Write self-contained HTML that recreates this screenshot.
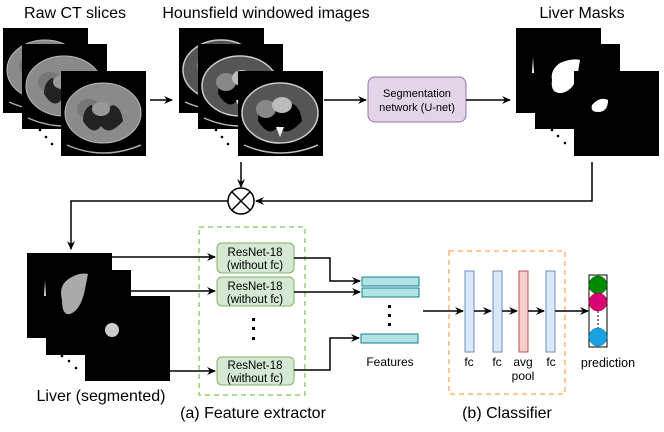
<!DOCTYPE html>
<html><head><meta charset="utf-8"><style>
html,body{margin:0;padding:0;background:#fff}
svg{display:block}
text{font-family:"Liberation Sans",sans-serif;fill:#000}
</style></head><body>
<svg width="664" height="432" viewBox="0 0 664 432" xmlns="http://www.w3.org/2000/svg">
<defs>
<marker id="a" markerWidth="10" markerHeight="10" refX="8" refY="5" orient="auto" markerUnits="userSpaceOnUse"><path d="M0,1 L9,5 L0,9 L3,5 Z" fill="#000"/></marker>
<g id="ct">
<rect width="85" height="85" fill="#000"/>
<ellipse cx="42" cy="42" rx="38" ry="30" fill="#8a8a8a" stroke="#bbb" stroke-width="1"/>
<ellipse cx="28" cy="38" rx="12" ry="10" fill="#777"/>
<path d="M22 50 Q32 66 40 55 Q48 66 62 50 Q60 36 52 34 Q42 40 30 34 Q22 38 22 50Z" fill="#222"/>
<ellipse cx="40" cy="38" rx="9" ry="7" fill="#999"/>
<path d="M6 74 Q42 90 80 74" stroke="#aaa" fill="none" stroke-width="1.5"/>
</g>
<g id="hu">
<rect width="85" height="85" fill="#000"/>
<ellipse cx="42" cy="42" rx="38" ry="30" fill="#555" stroke="#ccc" stroke-width="1.5"/>
<path d="M20 50 Q32 68 40 55 Q48 68 64 50 Q62 34 52 32 Q42 38 30 32 Q20 36 20 50Z" fill="#000"/>
<ellipse cx="28" cy="38" rx="10" ry="9" fill="#888"/>
<ellipse cx="44" cy="34" rx="10" ry="8" fill="#bbb"/>
<path d="M38 56 L46 56 L42 66Z" fill="#eee"/>
<path d="M6 74 Q42 90 80 74" stroke="#bbb" fill="none" stroke-width="1.5"/>
</g>
</defs>

<text x="75" y="18" font-size="16" text-anchor="middle">Raw CT slices</text>
<text x="266" y="18" font-size="16" text-anchor="middle">Hounsfield windowed images</text>
<text x="582" y="18" font-size="16" text-anchor="middle">Liver Masks</text>

<use href="#ct" x="3" y="28"/>
<use href="#ct" x="22" y="44"/>
<use href="#ct" x="61" y="71"/>
<circle cx="40" cy="130" r="1.3"/><circle cx="46" cy="137" r="1.3"/><circle cx="52" cy="144" r="1.3"/>

<use href="#hu" x="179" y="28"/>
<use href="#hu" x="198" y="44"/>
<use href="#hu" x="238" y="71"/>
<circle cx="216" cy="130" r="1.3"/><circle cx="222" cy="137" r="1.3"/><circle cx="228" cy="144" r="1.3"/>

<line x1="150" y1="100" x2="172" y2="100" stroke="#000" stroke-width="1.5" marker-end="url(#a)"/>
<line x1="324" y1="100" x2="366" y2="100" stroke="#000" stroke-width="1.5" marker-end="url(#a)"/>
<rect x="368" y="77" width="98" height="45" rx="7" fill="#e1d5e7" stroke="#9673a6"/>
<text x="417" y="97" font-size="11" text-anchor="middle">Segmentation</text>
<text x="417" y="111" font-size="11" text-anchor="middle">network (U-net)</text>
<line x1="466" y1="100" x2="510" y2="100" stroke="#000" stroke-width="1.5" marker-end="url(#a)"/>

<rect x="516" y="28" width="85" height="85" fill="#000"/>
<path d="M533 57 L534 73 L532 73Z" fill="#fff"/>
<rect x="535" y="44" width="85" height="85" fill="#000"/>
<path d="M552 80 Q550 70 560 63 Q572 58 580 60 L578 72 Q575 90 562 93 Q550 94 552 80Z" fill="#fff"/>
<rect x="574" y="71" width="85" height="85" fill="#000"/>
<path d="M592 105 Q600 96 608 100 Q608 112 598 112 Q590 112 592 105Z" fill="#fff"/>
<circle cx="552" cy="130" r="1.3"/><circle cx="558" cy="136" r="1.3"/><circle cx="565" cy="143" r="1.3"/>

<line x1="241" y1="162" x2="241" y2="187" stroke="#000" stroke-width="1.5" marker-end="url(#a)"/>
<polyline points="592,162 592,201 256,201" fill="none" stroke="#000" stroke-width="1.5" marker-end="url(#a)"/>
<circle cx="241" cy="201" r="13" fill="#fff" stroke="#000" stroke-width="1.5"/>
<line x1="232" y1="192" x2="250" y2="210" stroke="#000" stroke-width="1.5"/>
<line x1="250" y1="192" x2="232" y2="210" stroke="#000" stroke-width="1.5"/>
<polyline points="228,201 71,201 71,249" fill="none" stroke="#000" stroke-width="1.5" marker-end="url(#a)"/>

<rect x="27" y="253" width="85" height="85" fill="#000"/>
<rect x="46" y="270" width="85" height="85" fill="#000"/>
<path d="M45 280 L46 296 L44 296Z" fill="#ddd"/>
<path d="M62 300 Q58 285 70 278 Q80 272 88 274 L86 284 Q82 310 70 314 Q62 316 62 300Z" fill="#aaa"/>
<rect x="85" y="296" width="85" height="85" fill="#000"/>
<ellipse cx="112" cy="330" rx="7" ry="7" fill="#ccc"/>
<circle cx="62" cy="356" r="1.3"/><circle cx="69" cy="361" r="1.3"/><circle cx="76" cy="368" r="1.3"/>
<text x="101" y="401" font-size="16" text-anchor="middle">Liver (segmented)</text>

<rect x="199" y="227" width="106" height="168" fill="none" stroke="#97d077" stroke-width="1.5" stroke-dasharray="5,4"/>
<line x1="112" y1="257" x2="215" y2="257" stroke="#000" stroke-width="1.5" marker-end="url(#a)"/>
<line x1="130" y1="291" x2="215" y2="291" stroke="#000" stroke-width="1.5" marker-end="url(#a)"/>
<line x1="170" y1="371" x2="215" y2="371" stroke="#000" stroke-width="1.5" marker-end="url(#a)"/>
<g font-size="11.5" text-anchor="middle">
<rect x="217" y="243" width="77" height="30" rx="5" fill="#d5e8d4" stroke="#82b366"/>
<text x="255" y="256">ResNet-18</text><text x="255" y="269">(without fc)</text>
<rect x="217" y="277" width="77" height="29" rx="5" fill="#d5e8d4" stroke="#82b366"/>
<text x="255" y="290">ResNet-18</text><text x="255" y="303">(without fc)</text>
<rect x="217" y="357" width="77" height="28" rx="5" fill="#d5e8d4" stroke="#82b366"/>
<text x="255" y="369">ResNet-18</text><text x="255" y="382">(without fc)</text>
</g>
<rect x="252" y="318" width="3" height="3"/><rect x="252" y="327" width="3" height="3"/><rect x="252" y="337" width="3" height="3"/>
<text x="253" y="418" font-size="16" text-anchor="middle">(a) Feature extractor</text>

<polyline points="294,258 330,258 330,281 360,281" fill="none" stroke="#000" stroke-width="1.5" marker-end="url(#a)"/>
<line x1="294" y1="292" x2="360" y2="292" stroke="#000" stroke-width="1.5" marker-end="url(#a)"/>
<polyline points="294,370 330,370 330,338 359,338" fill="none" stroke="#000" stroke-width="1.5" marker-end="url(#a)"/>
<rect x="362" y="277" width="57" height="9" fill="#b0e3e6" stroke="#0e8088"/>
<rect x="362" y="288" width="57" height="9" fill="#b0e3e6" stroke="#0e8088"/>
<rect x="361" y="334" width="57" height="9" fill="#b0e3e6" stroke="#0e8088"/>
<rect x="388" y="305" width="3" height="3"/><rect x="388" y="314" width="3" height="3"/><rect x="388" y="323" width="3" height="3"/>
<text x="390" y="366" font-size="12" text-anchor="middle">Features</text>

<rect x="449" y="251" width="116" height="143" fill="none" stroke="#ffb570" stroke-width="1.5" stroke-dasharray="5,4"/>
<line x1="423" y1="311" x2="463" y2="311" stroke="#000" stroke-width="1.5" marker-end="url(#a)"/>
<rect x="465" y="271" width="9" height="81" fill="#dae8fc" stroke="#6c8ebf"/>
<rect x="493" y="271" width="9" height="81" fill="#dae8fc" stroke="#6c8ebf"/>
<rect x="519" y="271" width="9" height="81" fill="#f8cecc" stroke="#b85450"/>
<rect x="546" y="271" width="9" height="81" fill="#dae8fc" stroke="#6c8ebf"/>
<line x1="474" y1="311" x2="491" y2="311" stroke="#000" stroke-width="1.5" marker-end="url(#a)"/>
<line x1="502" y1="311" x2="517" y2="311" stroke="#000" stroke-width="1.5" marker-end="url(#a)"/>
<line x1="528" y1="311" x2="544" y2="311" stroke="#000" stroke-width="1.5" marker-end="url(#a)"/>
<line x1="555" y1="311" x2="588" y2="311" stroke="#000" stroke-width="1.5" marker-end="url(#a)"/>
<g font-size="12" text-anchor="middle">
<text x="469" y="366">fc</text><text x="497" y="366">fc</text>
<text x="523" y="366">avg</text><text x="523" y="380">pool</text>
<text x="551" y="366">fc</text>
</g>
<text x="507" y="418" font-size="16" text-anchor="middle">(b) Classifier</text>

<rect x="589" y="275" width="18" height="72" fill="#fff" stroke="#000"/>
<line x1="598" y1="311" x2="598" y2="328" stroke="#000" stroke-dasharray="2,2"/>
<circle cx="598" cy="285" r="9" fill="#008a00" stroke="#005700" stroke-width="0.5"/>
<circle cx="598" cy="302" r="9" fill="#d80073" stroke="#a50040" stroke-width="0.5"/>
<circle cx="598" cy="337" r="9" fill="#1ba1e2" stroke="#006eaf" stroke-width="0.5"/>
<text x="608" y="367" font-size="12.5" text-anchor="middle">prediction</text>
</svg>
</body></html>
